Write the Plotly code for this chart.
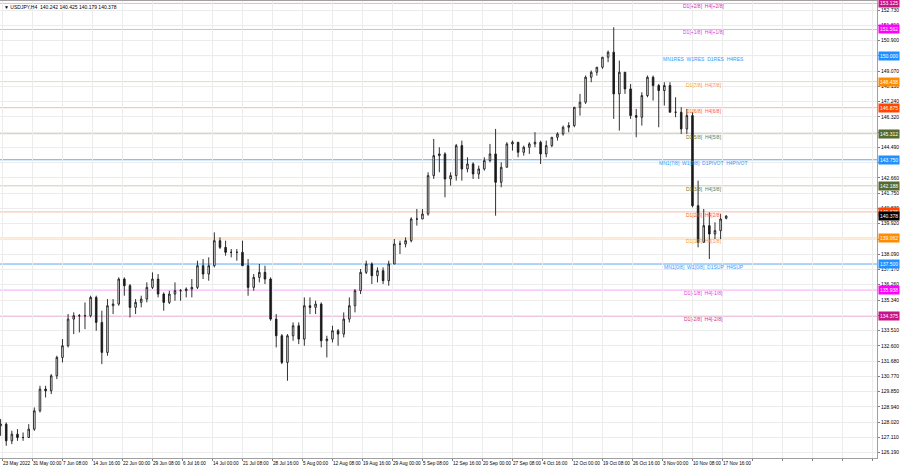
import plotly.graph_objects as go

# ---------------- data (daily OHLC) ----------------
day_index = list(range(130))  # trading days from 23 May 2022
opens = [127.8,127.9,126.9,127.3,127.1, 127.1,127.6,128.7,130.0,129.9,
         130.8,131.9,132.6,134.2,134.4, 134.4,134.4,135.5,134.0,132.2,
         135.0,135.1,136.6,136.2,134.9, 135.2,135.4,136.1,136.6,135.7,
         135.2,135.7,135.9,135.9,136.0, 136.1,137.4,136.9,137.4,138.9,
         138.5,138.2,138.2,138.2,137.4, 136.1,136.7,137.0,136.6,134.2,
         133.2,131.6,133.2,133.8,133.0, 135.0,134.9,135.1,132.9,133.0,
         133.5,133.3,134.2,135.0,135.9, 137.0,137.5,136.8,137.1,136.5,
         137.5,138.7,138.7,138.9,140.2, 140.2,140.5,142.8,144.0,144.1,
         142.6,142.8,144.6,143.2,143.5, 142.9,143.2,143.7,144.1,142.4,
         143.3,144.7,144.8,144.2,144.5, 144.7,144.8,144.1,144.6,145.1,
         145.3,145.7,145.8,146.9,147.2, 148.7,149.0,149.3,149.9,150.2,
         147.7,149.0,148.0,146.4,146.3, 147.6,148.7,148.2,147.9,148.2,
         146.6,146.6,145.6,146.4,141.0, 138.8,139.8,139.3,139.5,140.242]
highs = [128.2,128.0,127.5,127.6,127.4, 127.9,128.9,130.2,130.2,130.9,
         132.0,133.0,134.5,134.6,134.5, 135.2,135.6,135.6,134.7,135.4,
         135.4,136.7,136.7,136.3,135.4, 135.6,136.4,137.0,136.9,135.8,
         135.9,136.4,136.0,136.1,136.6, 137.7,137.8,137.9,139.4,139.1,
         138.9,138.4,138.4,138.9,137.8, 136.9,137.5,137.4,136.7,134.5,
         133.3,133.3,134.0,134.0,135.5, 135.5,135.3,135.2,133.2,133.8,
         133.6,134.6,135.5,136.0,137.2, 137.7,137.6,137.3,137.3,137.7,
         139.0,138.9,139.1,140.3,140.8, 140.8,143.0,145.0,144.5,144.2,
         143.0,144.7,144.9,143.9,143.6, 143.4,143.9,144.7,145.6,143.6,
         144.8,144.9,144.8,144.6,144.8, 145.4,144.9,144.9,145.1,145.4,
         145.8,146.0,146.9,147.7,148.8, 149.1,149.3,149.9,150.3,151.7,
         149.7,149.0,148.3,146.8,147.8, 148.8,148.8,148.3,148.4,148.4,
         147.5,146.9,146.8,146.6,142.5, 140.8,140.6,140.0,140.5,140.425]
lows = [127.2,126.6,126.7,126.9,126.9, 127.1,127.5,128.6,129.5,129.7,
        130.6,131.6,132.5,133.3,133.4, 133.6,134.3,133.5,131.5,132.0,
        134.5,135.0,135.6,134.3,134.5, 134.9,135.2,136.0,135.5,134.7,
        135.1,135.3,135.3,135.5,135.5, 136.0,136.6,136.5,137.3,138.4,
        138.0,137.9,137.7,137.4,135.6, 135.9,136.4,136.3,134.1,132.5,
        131.5,130.5,132.9,132.7,132.6, 134.5,134.5,132.5,131.9,132.8,
        132.6,133.1,134.0,134.6,135.7, 136.9,136.3,136.4,136.3,136.2,
        137.5,138.1,138.5,138.8,139.8, 140.2,140.4,142.6,143.0,141.5,
        142.2,142.5,142.5,143.0,142.6, 142.6,143.1,143.6,140.4,142.1,
        143.3,144.3,143.9,144.0,144.1, 144.5,143.5,143.9,144.5,144.9,
        145.2,145.4,145.7,146.4,147.1, 148.4,148.8,149.2,149.6,146.2,
        145.5,147.7,146.2,145.1,145.8, 147.5,147.3,145.7,147.0,146.6,
        146.3,145.3,145.3,140.9,138.5, 138.8,137.8,139.0,139.0,140.179]
closes = [127.9,126.9,127.3,127.1,127.1, 127.6,128.7,130.0,129.9,130.8,
          131.9,132.6,134.2,134.4,134.4, 134.4,135.5,134.0,132.2,135.0,
          135.1,136.6,136.2,134.9,135.2, 135.4,136.1,136.6,135.7,135.2,
          135.7,135.9,135.9,136.0,136.1, 137.4,136.9,137.4,138.9,138.5,
          138.2,138.2,138.2,137.4,136.1, 136.7,137.0,136.6,134.2,133.2,
          131.6,133.2,133.8,133.0,135.0, 134.9,135.1,132.9,133.0,133.5,
          133.3,134.2,135.0,135.9,137.0, 137.5,136.8,137.1,136.5,137.5,
          138.7,138.7,138.9,140.2,140.2, 140.5,142.8,144.0,144.1,142.6,
          142.8,144.6,143.2,143.5,142.9, 143.2,143.7,144.1,142.4,143.3,
          144.7,144.8,144.2,144.5,144.7, 144.8,144.1,144.6,145.1,145.3,
          145.7,145.8,146.9,147.2,148.7, 149.0,149.3,149.9,150.2,147.7,
          149.0,148.0,146.4,146.3,147.6, 148.7,148.2,147.9,148.2,146.6,
          146.6,145.6,146.4,141.0,138.8, 139.8,139.3,139.5,140.2,140.378]

# Murrey-math levels
level_prices = [153.125, 151.562, 150.000, 148.438, 146.875, 145.312, 143.750,
                142.188, 140.625, 139.062, 137.500, 135.938, 134.375]
level_labels = ["D1[+2/8]  H4[+2/8]", "D1[+1/8]  H4[+1/8]",
                "MN1RES  W1RES  D1RES  H4RES", "D1[7/8]  H4[7/8]",
                "D1[6/8]  H4[6/8]", "D1[5/8]  H4[5/8]",
                "MN1[7/8]  W1[7/8]  D1PIVOT  H4PIVOT", "D1[3/8]  H4[3/8]",
                "D1[2/8]  H4[2/8]", "D1[1/8]  H4[1/8]",
                "MN1[0/8]  W1[0/8]  D1SUP  H4SUP", "D1[-1/8]  H4[-1/8]",
                "D1[-2/8]  H4[-2/8]"]
level_box_colors = ["#C71585", "#FF00FF", "#1E90FF", "#FF8C00", "#FF4500", "#556B2F",
                    "#1E90FF", "#556B2F", "#FF4500", "#FF8C00", "#1E90FF", "#FF00FF",
                    "#C71585"]
level_line_colors = ["#f0b0dc", "#f7a6f3", "#5aaaf8", "#fcd4a6", "#fbb8a4", "#cdcdb5",
                     "#5aaaf8", "#cdcdb5", "#fbb8a4", "#fcd4a6", "#5aaaf8", "#f7a6f3",
                     "#e6a6c9"]
level_text_colors = ["#d030b0", "#e040e0", "#3399ff", "#ff9933", "#ff5a2a", "#6b7a3a",
                     "#3399ff", "#6b7a3a", "#ff5a2a", "#ff9933", "#3399ff", "#e040e0",
                     "#c83090"]

current_price = 140.378
header_text = "\u25BC USDJPY,H4  140.242 140.425 140.179 140.378"

price_ticks = [126.190, 127.110, 128.020, 128.940, 129.850, 130.770, 131.680, 132.600,
               133.510, 134.430, 135.340, 136.260, 137.170, 138.090, 139.000, 139.920,
               140.830, 141.750, 142.660, 143.580, 144.490, 145.410, 146.320, 147.240,
               148.150, 149.070, 149.980, 150.900, 151.810, 152.730]

date_labels = ["23 May 2022", "31 May 00:00", "7 Jun 08:00", "14 Jun 16:00", "22 Jun 00:00",
               "29 Jun 08:00", "6 Jul 16:00", "14 Jul 00:00", "21 Jul 08:00", "28 Jul 16:00",
               "5 Aug 00:00", "12 Aug 08:00", "19 Aug 16:00", "29 Aug 00:00", "5 Sep 08:00",
               "12 Sep 16:00", "20 Sep 00:00", "27 Sep 08:00", "4 Oct 16:00", "12 Oct 00:00",
               "19 Oct 08:00", "26 Oct 16:00", "3 Nov 00:00", "10 Nov 08:00", "17 Nov 16:00"]
# H4-bar index of each date label (first = first visible bar)
date_bar_index = [4] + [36 + 32 * k for k in range(24)]
extra_grid_index = [804, 836, 868, 900, 932]

# ---------------- figure ----------------
BARS_PER_DAY = 6
xs = [BARS_PER_DAY * d + 2.5 for d in day_index]

fig = go.Figure()
fig.add_trace(go.Candlestick(
    x=xs, open=opens, high=highs, low=lows, close=closes,
    increasing=dict(line=dict(color="#1a1a1a", width=0.9), fillcolor="#ffffff"),
    decreasing=dict(line=dict(color="#1a1a1a", width=0.9), fillcolor="#1a1a1a"),
    whiskerwidth=0, hoverinfo="skip", showlegend=False))

FONT = "Liberation Sans"
shapes = []
annotations = []
for p, lab, bc, lc, tc in zip(level_prices, level_labels, level_box_colors,
                              level_line_colors, level_text_colors):
    shapes.append(dict(type="line", xref="paper", x0=0, x1=1, yref="y", y0=p, y1=p,
                       line=dict(color=lc, width=1), layer="below"))
    annotations.append(dict(xref="paper", x=703.5 / 877, yref="y", y=p, yshift=-3,
                            text=lab, showarrow=False, xanchor="center", yanchor="middle",
                            font=dict(family=FONT, size=5, color=tc)))
    annotations.append(dict(xref="paper", x=1, xshift=1, yref="y", y=p,
                            text="%.3f" % p, showarrow=False, xanchor="left",
                            yanchor="middle", bgcolor=bc, borderpad=1,
                            font=dict(family=FONT, size=5, color="#ffffff")))
annotations.append(dict(xref="paper", x=1, xshift=1, yref="y", y=current_price,
                        text="%.3f" % current_price, showarrow=False, xanchor="left",
                        yanchor="middle", bgcolor="#000000", borderpad=1,
                        font=dict(family=FONT, size=5, color="#ffffff")))
annotations.append(dict(xref="paper", x=0, xshift=2, yref="paper", y=1, yshift=-1,
                        text=header_text, showarrow=False, xanchor="left", yanchor="top",
                        font=dict(family=FONT, size=5, color="#000000")))

x0 = 1.87
fig.update_layout(
    width=900, height=468,
    margin=dict(l=0, r=23, t=1, b=10),
    paper_bgcolor="#ffffff", plot_bgcolor="#ffffff",
    shapes=shapes, annotations=annotations,
    showlegend=False, boxgap=0.6,
    xaxis=dict(range=[x0, x0 + 877 / 0.9375], rangeslider=dict(visible=False),
               tickmode="array", tickvals=date_bar_index + extra_grid_index,
               ticktext=date_labels + [""] * len(extra_grid_index),
               ticklabelposition="outside right", tickangle=0,
               ticks="outside", ticklen=2, tickcolor="#808080",
               tickfont=dict(family=FONT, size=4.7, color="#000000"),
               showgrid=True, gridcolor="#ececec", gridwidth=1,
               showline=True, linecolor="#a0a0a0", linewidth=1, mirror=True,
               zeroline=False, fixedrange=True, automargin=False),
    yaxis=dict(range=[125.87, 153.27], side="right",
               tickmode="array", tickvals=price_ticks,
               ticktext=["%.3f" % v for v in price_ticks],
               ticks="outside", ticklen=2, tickcolor="#808080",
               tickfont=dict(family=FONT, size=5, color="#000000"),
               showgrid=True, gridcolor="#ececec", gridwidth=1,
               showline=True, linecolor="#a0a0a0", linewidth=1, mirror=True,
               zeroline=False, fixedrange=True, automargin=False),
)

fig.write_html("out.html", config={"displayModeBar": False},
               post_script="document.body.style.margin='0';document.body.style.overflow='hidden';")
